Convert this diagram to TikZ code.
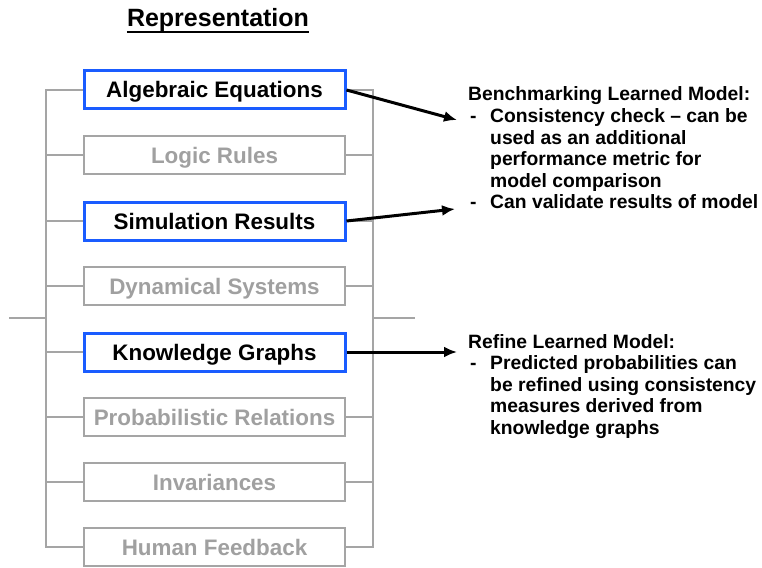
\documentclass[tikz,border=0pt]{standalone}
\usepackage{fontspec}
\setmainfont{Liberation Sans}
\usetikzlibrary{arrows.meta,backgrounds}
\definecolor{boxblue}{RGB}{26,92,255}
\definecolor{linegray}{RGB}{165,165,165}
\definecolor{textgray}{RGB}{160,160,160}
\tikzset{
  rep/.style={draw=linegray, line width=1.5pt, fill=white, text=textgray,
    minimum width=261pt, minimum height=38pt, inner sep=0pt,
    text height=16pt, text depth=0pt,
    font=\fontsize{22.4}{26}\selectfont\bfseries},
  repon/.style={rep, draw=boxblue, line width=3pt, text=black},
  bar/.style={linegray, line width=1.5pt},
  link/.style={->, line width=3pt},
  note/.style={anchor=base west, inner sep=0pt, align=left,
    font=\fontsize{19.3}{21.6}\selectfont\bfseries}
}
\begin{document}
\begin{tikzpicture}[x=1pt, y=-1pt, >={Latex[length=13pt,width=11pt]}]
\useasboundingbox (0,0) rectangle (762,567);
% Title
\node[anchor=base, inner sep=0pt, font=\fontsize{25}{30}\selectfont\bfseries] (title) at (218,27) {Representation};
\draw[line width=2pt] ([yshift=-5pt]title.base west) -- ([yshift=-5pt]title.base east);
% Representations
\node[repon] (alg) at (214.5,90) {Algebraic Equations};
\node[rep] (logic) at (214.5,155) {Logic Rules};
\node[repon] (sim) at (214.5,221) {Simulation Results};
\node[rep] (dyn) at (214.5,286) {Dynamical Systems};
\node[repon] (know) at (214.5,352) {Knowledge Graphs};
\node[rep] (prob) at (214.5,417) {Probabilistic Relations};
\node[rep] (inv) at (214.5,482) {Invariances};
\node[rep] (human) at (214.5,547) {Human Feedback};
% Brackets
\coordinate (lb) at (46,318);
\coordinate (rb) at (373,318);
\coordinate (lm) at (9,318);
\coordinate (rm) at (415,318);
\begin{scope}[on background layer]
\draw[bar] (alg.west) -- (alg.west -| lb) -- (human.west -| lb) -- (human.west);
\draw[bar] (alg.east) -- (alg.east -| rb) -- (human.east -| rb) -- (human.east);
\foreach \n in {logic,sim,dyn,know,prob,inv}
  \draw[bar] (\n.west -| lb) -- (\n.west) (\n.east) -- (\n.east -| rb);
\draw[bar] (lm) -- (lb) (rb) -- (rm);
\end{scope}
% Notes
\node[note] (bench) at (468,101) {\begin{tabular}[t]{@{}p{22pt}@{}l@{}}
\multicolumn{2}{@{}l@{}}{Benchmarking Learned Model:}\\
\hspace{2pt}- & Consistency check -- can be\\
 & used as an additional\\
 & performance metric for\\
 & model comparison\\
\hspace{2pt}- & Can validate results of model
\end{tabular}};
\node[note] (refine) at (468,348) {\begin{tabular}[t]{@{}p{22pt}@{}l@{}}
\multicolumn{2}{@{}l@{}}{Refine Learned Model:}\\
\hspace{2pt}- & Predicted probabilities can\\
 & be refined using consistency\\
 & measures derived from\\
 & knowledge graphs
\end{tabular}};
\coordinate (benchin) at (457,120);
\coordinate (validin) at (455,209);
\coordinate (refinein) at (457,352);
\draw[link] (alg.east) -- (benchin);
\draw[link] (sim.east) -- (validin);
\draw[link] (know.east) -- (refinein);
\end{tikzpicture}
\end{document}
